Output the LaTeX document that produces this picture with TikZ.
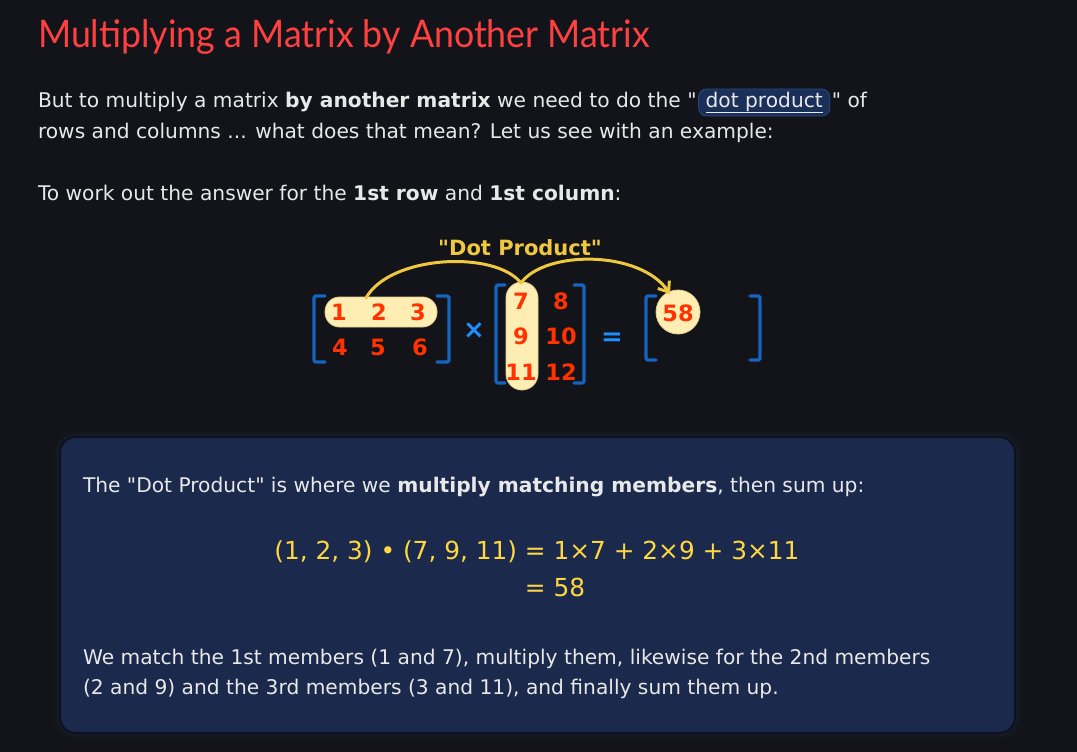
\documentclass[tikz,border=0pt]{standalone}
\usepackage{fontspec}
\setmainfont{DejaVu Sans}
\newfontfamily\bodyfont{DejaVu Sans}
\newfontfamily\titlefont[FakeStretch=0.94]{Lato}
\newfontfamily\numfont{DejaVu Sans}
\usetikzlibrary{arrows.meta,calc}
\definecolor{bg}{RGB}{18,20,25}
\definecolor{boxfill}{RGB}{27,42,76}
\definecolor{boxedge}{RGB}{12,18,32}
\definecolor{glow}{RGB}{40,60,100}
\definecolor{titlered}{RGB}{255,64,64}
\definecolor{bodytext}{RGB}{232,232,232}
\definecolor{linkfill}{RGB}{27,48,88}
\definecolor{linkedge}{RGB}{42,72,122}
\definecolor{eqyellow}{RGB}{255,215,64}
\definecolor{dpyellow}{RGB}{240,200,64}
\definecolor{hlfill}{RGB}{255,238,180}
\definecolor{hledge}{RGB}{225,205,145}
\definecolor{numred}{RGB}{255,50,0}
\definecolor{brblue}{RGB}{21,101,192}
\definecolor{opblue}{RGB}{30,144,255}
\tikzset{
  txt/.style={inner sep=0pt, outer sep=0pt, anchor=base west, text=bodytext, font=\bodyfont\fontsize{20.2}{24}\selectfont},
  num/.style={inner sep=0pt, text=numred, font=\numfont\bfseries\fontsize{22.5}{24}\selectfont},
  brk/.style={draw=brblue, line width=3.2pt, line cap=round, line join=round, rounded corners=1.5pt},
  hl/.style={draw=hledge, fill=hlfill, line width=0.8pt},
  op/.style={inner sep=0pt, text=opblue, font=\numfont\bfseries\fontsize{26}{28}\selectfont},
  arc/.style={draw=dpyellow, line width=3pt, line cap=round},
  eq/.style={inner sep=0pt, text=eqyellow, font=\bodyfont\fontsize{24.8}{28}\selectfont},
}
\begin{document}
\begin{tikzpicture}[x=1pt,y=-1pt]
\useasboundingbox (0,0) rectangle (1077,752);
\fill[bg] (0,0) rectangle (1077,752);

% title
\node[inner sep=0pt, anchor=base west, text=titlered, font=\titlefont\fontsize{38}{40}\selectfont] (title) at (38,48) {Multiplying a Matrix by Another Matrix};

% paragraph line 1
\node[txt] (l1a) at (38,107) {But to multiply a matrix \textbf{by another matrix} we need to do the "};
\node[txt, anchor=base west, fill=linkfill, draw=linkedge, line width=0.8pt, rounded corners=8pt, inner xsep=7pt, inner ysep=0pt, text depth=9pt, text height=18pt] (dp) at ($(l1a.base east)+(2,0)$) {\underline{dot product}};
\node[txt] (l1c) at ($(dp.base east)+(2,0)$) {" of};
\node[txt] (l2) at (38,139) {rows and columns ... what does that mean? Let us see with an example:};
\node[txt] (l3) at (38,200) {To work out the answer for the \textbf{1st row} and \textbf{1st column}:};

% diagram
\node[inner sep=0pt, text=dpyellow, font=\numfont\bfseries\fontsize{21}{23}\selectfont] (dplabel) at (520,248) {"Dot Product"};

% matrix A
\draw[hl, rounded corners=14.5pt] (325,297) rectangle (437,327);
\coordinate (rowtop) at (366,298);
\draw[brk] (325,296) -- (314,296) -- (314,362) -- (325,362);
\draw[brk] (437,296) -- (449,296) -- (449,362) -- (437,362);
\node[num] (a11) at (339,312) {1};
\node[num] (a12) at (379,312) {2};
\node[num] (a13) at (418,312) {3};
\node[num] (a21) at (340,347) {4};
\node[num] (a22) at (378,347) {5};
\node[num] (a23) at (420,347) {6};

\node[op] (times) at (474,331) {×};

% matrix B
\draw[hl, rounded corners=16pt] (506,282) rectangle (538,390);
\coordinate (coltop) at (521,283);
\draw[brk] (505,285) -- (496,285) -- (496,383) -- (505,383);
\draw[brk] (574,285) -- (584,285) -- (584,383) -- (574,383);
\node[num] (b11) at (521,301) {7};
\node[num] (b12) at (561,301) {8};
\node[num] (b21) at (521,336) {9};
\node[num] (b22) at (561,336) {10};
\node[num] (b31) at (521,372) {11};
\node[num] (b32) at (561,372) {12};

\node[op] (equals) at (612,339) {=};

% result
\draw[brk] (656,296) -- (646,296) -- (646,360) -- (656,360);
\draw[brk] (750,296) -- (760,296) -- (760,360) -- (750,360);
\node[circle, hl, minimum size=44pt, inner sep=0pt] (rc) at (678,312) {};
\node[num] (r11) at (678,313) {58};
\coordinate (tip) at (670,294);

% arcs
\draw[arc] (rowtop) .. controls (390,255) and (495,250) .. (coltop);
\draw[arc, -{Straight Barb[length=9pt,width=14pt,line width=3pt]}] (coltop) .. controls (545,250) and (640,250) .. (tip);

% box with glow
\foreach \g/\o in {14/0.04,10/0.06,6/0.08,3/0.12}{
  \draw[glow, line width=\g pt, opacity=\o, rounded corners=16pt] (60,437) rectangle (1015,733);
}
\draw[fill=boxfill, draw=boxedge, line width=2pt, rounded corners=16pt] (60,437) rectangle (1015,733);
\node[txt] (b1) at (83,492) {The "Dot Product" is where we \textbf{multiply matching members}, then sum up:};
\node[eq, anchor=base] (eq1) at (537,559) {(1, 2, 3) • (7, 9, 11) = 1×7 + 2×9 + 3×11};
\node[eq, anchor=base] (eq2) at (555,596) {= 58};
\node[txt] (p1) at (83,664) {We match the 1st members (1 and 7), multiply them, likewise for the 2nd members};
\node[txt] (p2) at (83,694) {(2 and 9) and the 3rd members (3 and 11), and finally sum them up.};
\end{tikzpicture}
\end{document}
